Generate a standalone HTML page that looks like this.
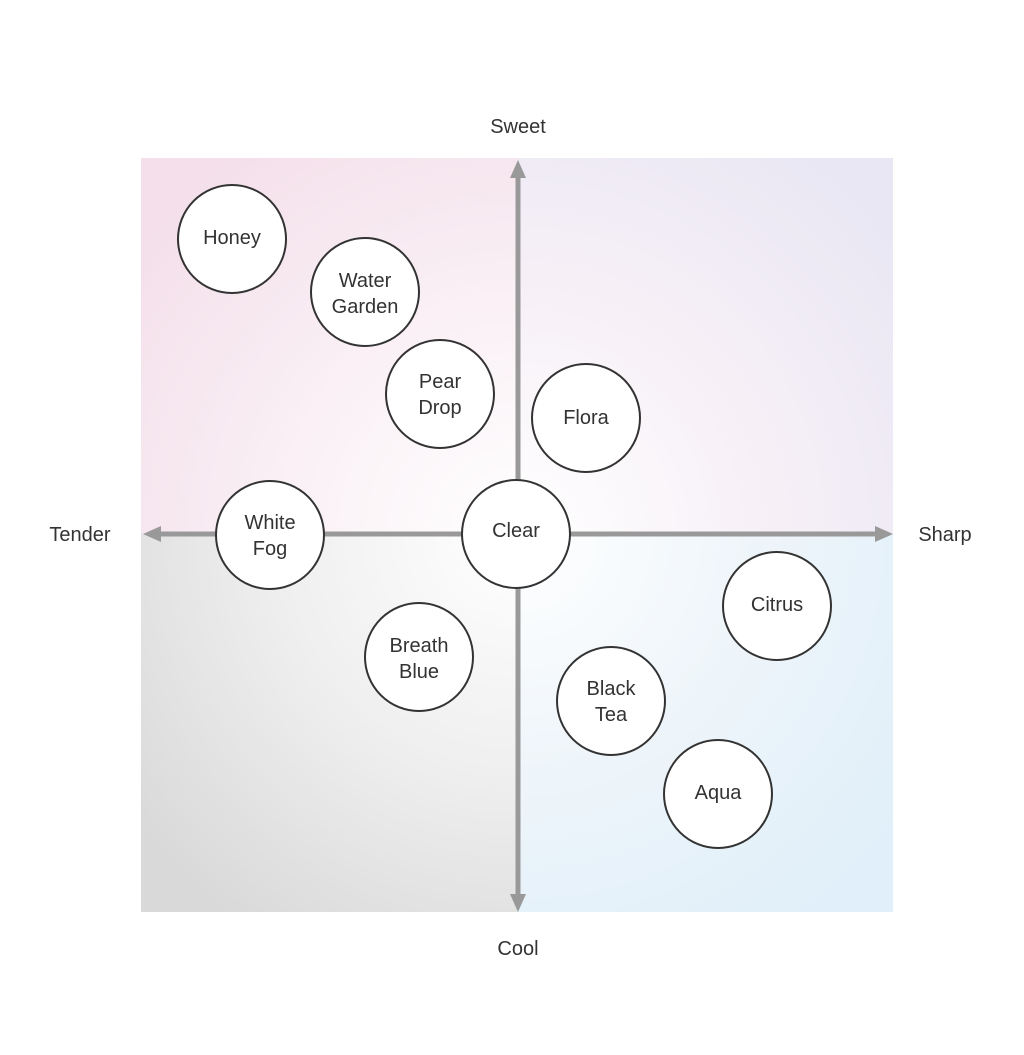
<!DOCTYPE html>
<html><head><meta charset="utf-8"><style>
body{margin:0;background:#fff;}
svg text{font-family:"Liberation Sans",Arial,sans-serif;fill:#333;}
</style></head><body>
<svg width="1024" height="1050" viewBox="0 0 1024 1050" xmlns="http://www.w3.org/2000/svg">
<defs>
<radialGradient id="tl" cx="518" cy="534" r="480" gradientUnits="userSpaceOnUse"><stop offset="0" stop-color="#ffffff"/><stop offset="0.55" stop-color="#f9eef4"/><stop offset="1" stop-color="#f4dfea"/></radialGradient>
<radialGradient id="tr" cx="518" cy="534" r="480" gradientUnits="userSpaceOnUse"><stop offset="0" stop-color="#ffffff"/><stop offset="0.55" stop-color="#f6eff6"/><stop offset="1" stop-color="#e9e7f4"/></radialGradient>
<radialGradient id="bl" cx="518" cy="534" r="480" gradientUnits="userSpaceOnUse"><stop offset="0" stop-color="#ffffff"/><stop offset="0.5" stop-color="#efefef"/><stop offset="1" stop-color="#d9d9d9"/></radialGradient>
<radialGradient id="br" cx="518" cy="534" r="480" gradientUnits="userSpaceOnUse"><stop offset="0" stop-color="#ffffff"/><stop offset="0.5" stop-color="#eef5fa"/><stop offset="1" stop-color="#e0eff9"/></radialGradient>
</defs>
<rect x="141" y="158" width="377" height="376" fill="url(#tl)"/>
<rect x="518" y="158" width="375" height="376" fill="url(#tr)"/>
<rect x="141" y="534" width="377" height="378" fill="url(#bl)"/>
<rect x="518" y="534" width="375" height="378" fill="url(#br)"/>
<g stroke="#999" stroke-width="5">
<line x1="518" y1="172" x2="518" y2="898"/>
<line x1="156" y1="534" x2="880" y2="534"/>
</g>
<g fill="#999">
<polygon points="518,160 510,178 526,178"/>
<polygon points="518,912 510,894 526,894"/>
<polygon points="143,534 161,526 161,542"/>
<polygon points="893,534 875,526 875,542"/>
</g>
<g fill="#fff" stroke="#333" stroke-width="2">
<circle cx="232" cy="239" r="54"/>
<circle cx="365" cy="292" r="54"/>
<circle cx="440" cy="394" r="54"/>
<circle cx="586" cy="418" r="54"/>
<circle cx="270" cy="535" r="54"/>
<circle cx="516" cy="534" r="54"/>
<circle cx="419" cy="657" r="54"/>
<circle cx="777" cy="606" r="54"/>
<circle cx="611" cy="701" r="54"/>
<circle cx="718" cy="794" r="54"/>
</g>
<g font-size="20" text-anchor="middle">
<text x="518" y="133">Sweet</text>
<text x="518" y="955">Cool</text>
<text x="80" y="541">Tender</text>
<text x="945" y="541">Sharp</text>
<text x="232" y="244">Honey</text>
<text x="365" y="287">Water</text><text x="365" y="313">Garden</text>
<text x="440" y="388">Pear</text><text x="440" y="414">Drop</text>
<text x="586" y="424">Flora</text>
<text x="270" y="529">White</text><text x="270" y="555">Fog</text>
<text x="516" y="537">Clear</text>
<text x="419" y="652">Breath</text><text x="419" y="678">Blue</text>
<text x="777" y="611">Citrus</text>
<text x="611" y="695">Black</text><text x="611" y="721">Tea</text>
<text x="718" y="799">Aqua</text>
</g>
</svg>
</body></html>
